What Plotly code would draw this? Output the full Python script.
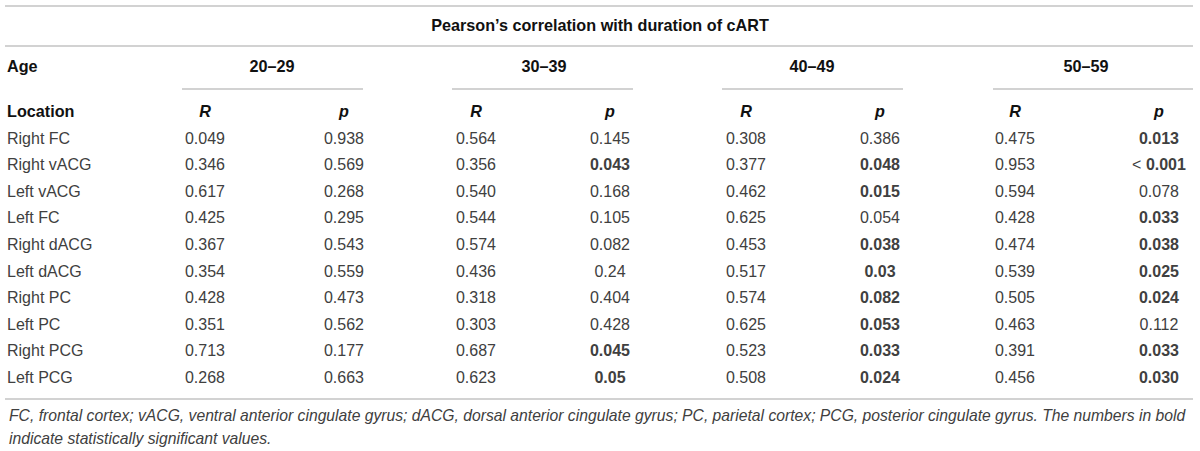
import plotly.graph_objects as go

# Pearson's correlation with duration of cART, by age group and brain location
locations = ["Right FC", "Right vACG", "Left vACG", "Left FC", "Right dACG",
             "Left dACG", "Right PC", "Left PC", "Right PCG", "Left PCG"]
age_groups = ["20–29", "30–39", "40–49", "50–59"]

r_20 = ["0.049", "0.346", "0.617", "0.425", "0.367", "0.354", "0.428", "0.351", "0.713", "0.268"]
p_20 = ["0.938", "0.569", "0.268", "0.295", "0.543", "0.559", "0.473", "0.562", "0.177", "0.663"]
r_30 = ["0.564", "0.356", "0.540", "0.544", "0.574", "0.436", "0.318", "0.303", "0.687", "0.623"]
p_30 = ["0.145", "0.043", "0.168", "0.105", "0.082", "0.24", "0.404", "0.428", "0.045", "0.05"]
r_40 = ["0.308", "0.377", "0.462", "0.625", "0.453", "0.517", "0.574", "0.625", "0.523", "0.508"]
p_40 = ["0.386", "0.048", "0.015", "0.054", "0.038", "0.03", "0.082", "0.053", "0.033", "0.024"]
r_50 = ["0.475", "0.953", "0.594", "0.428", "0.474", "0.539", "0.505", "0.463", "0.391", "0.456"]
p_50 = ["0.013", "< 0.001", "0.078", "0.033", "0.038", "0.025", "0.024", "0.112", "0.033", "0.030"]

# significant values (printed bold)
sig_20 = [0, 0, 0, 0, 0, 0, 0, 0, 0, 0]
sig_30 = [0, 1, 0, 0, 0, 0, 0, 0, 1, 1]
sig_40 = [0, 1, 1, 0, 1, 1, 1, 1, 1, 1]
sig_50 = [1, 1, 0, 1, 1, 1, 1, 0, 1, 1]

title = "Pearson’s correlation with duration of cART"
footnote_1 = ("FC, frontal cortex; vACG, ventral anterior cingulate gyrus; dACG, dorsal anterior "
              "cingulate gyrus; PC, parietal cortex; PCG, posterior cingulate gyrus. The numbers in bold")
footnote_2 = "indicate statistically significant values."

# layout (pixels)
W, H = 1200, 451
FONT = "Liberation Sans, Arial, sans-serif"
FS = 16
FS_HDR = 16.2
FS_NOTE = 15.7
GREY = "#404040"
BLACK = "#111111"
LINE = "#d2d2d2"
row0, row_h = 139.5, 26.6
col_x = [205, 344, 476, 610, 746, 880, 1015, 1159]
grp_x = [272, 544, 812, 1086]
grp_line = [(182, 363), (452, 633), (722, 903), (993, 1193)]


def fmt(v, s):
    if not s:
        return v
    if v.startswith("<"):
        return "< <b>" + v[1:].strip() + "</b>"
    return "<b>" + v + "</b>"


def text_trace(xs, ys, texts, pos, size, color):
    return go.Scatter(x=xs, y=ys, text=texts, mode="text", textposition=pos,
                      textfont=dict(family=FONT, size=size, color=color),
                      hoverinfo="skip", cliponaxis=False)


rows_y = [row0 + i * row_h for i in range(len(locations))]
columns = [(r_20, None), (p_20, sig_20), (r_30, None), (p_30, sig_30),
           (r_40, None), (p_40, sig_40), (r_50, None), (p_50, sig_50)]

fig = go.Figure()

fig.add_trace(text_trace([7] * len(locations), rows_y, locations, "middle right", FS, GREY))

for cx, (vals, sig) in zip(col_x, columns):
    sig = sig or [0] * len(vals)
    fig.add_trace(text_trace([cx] * len(vals), rows_y,
                             [fmt(v, s) for v, s in zip(vals, sig)],
                             "middle center", FS, GREY))

# header texts
hdr_y_age, hdr_y_loc = 67.5, 113
fig.add_trace(text_trace([7, 7], [hdr_y_age, hdr_y_loc], ["<b>Age</b>", "<b>Location</b>"],
                         "middle right", FS_HDR, BLACK))
fig.add_trace(text_trace(grp_x, [hdr_y_age] * 4, ["<b>" + g + "</b>" for g in age_groups],
                         "middle center", FS_HDR, BLACK))
fig.add_trace(text_trace(col_x, [hdr_y_loc] * 8, ["<b><i>R</i></b>", "<b><i>p</i></b>"] * 4,
                         "middle center", FS_HDR, BLACK))
fig.add_trace(text_trace([600], [27], ["<b>" + title + "</b>"], "middle center", FS_HDR, BLACK))

# rules
for y in (6, 46, 399):
    fig.add_shape(type="line", x0=5, x1=1193, y0=y, y1=y, line=dict(color=LINE, width=2))
for x0, x1 in grp_line:
    fig.add_shape(type="line", x0=x0, x1=x1, y0=89, y1=89, line=dict(color=LINE, width=2))

for yy, line in ((415, footnote_1), (438, footnote_2)):
    fig.add_annotation(x=7, y=yy, xanchor="left", yanchor="middle", align="left",
                       text="<i>" + line + "</i>", showarrow=False,
                       font=dict(family=FONT, size=FS_NOTE, color=GREY))

fig.update_layout(
    width=W, height=H, margin=dict(l=0, r=0, t=0, b=0),
    plot_bgcolor="white", paper_bgcolor="white", showlegend=False,
    xaxis=dict(range=[0, W], visible=False, fixedrange=True),
    yaxis=dict(range=[H, 0], visible=False, fixedrange=True),
)

# drop the page's default body margin so the figure sits at the window corner
fig.write_html("out.html", config={"displayModeBar": False},
               post_script="document.body.style.margin='0';")
